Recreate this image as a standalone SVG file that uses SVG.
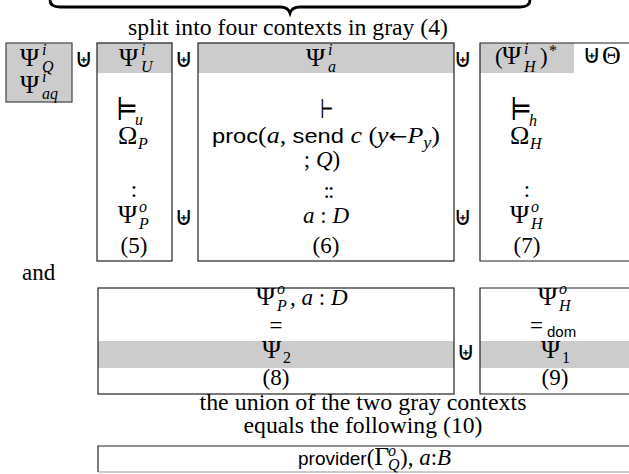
<svg xmlns="http://www.w3.org/2000/svg" width="629" height="474" viewBox="0 0 629 474">
<style>
text{font-family:"Liberation Serif","Times New Roman",serif;font-size:23px;fill:#000}
.gk{font-size:26px}
.i{font-style:italic}
.sc{font-size:16px}
.sf{font-family:"Liberation Sans",Arial,sans-serif;font-size:21px}
.op{font-family:"DejaVu Sans",sans-serif;font-size:26px}
.m{text-anchor:middle}
.g{fill:#cccccc;stroke:none}
.bx{fill:none;stroke:#222;stroke-width:1.2}
.rel{font-family:"DejaVu Sans",sans-serif}
.rs{font-family:"DejaVu Serif","DejaVu Sans",serif;fill:#000}
</style>
<rect width="629" height="474" fill="#fff"/>
<g id="brace">
<path d="M50,0 Q50,7 60,7 L280,7 Q288,7 290,13 Q292,7 300,7 L520,7 Q530,7 530,0" fill="none" stroke="#000" stroke-width="2.8"/>
</g>
<g id="title">
<text x="288" y="35" class="m" textLength="320" lengthAdjust="spacingAndGlyphs">split into four contexts in gray (4)</text>
</g>
<g id="connectors">
<text x="84" y="67" class="op m">⊎</text>
<text x="184" y="67" class="op m">⊎</text>
<text x="463" y="67" class="op m">⊎</text>
<text x="184" y="225" class="op m">⊎</text>
<text x="463" y="225" class="op m">⊎</text>
<text x="466" y="360" class="op m">⊎</text>
</g>
<g id="ctx-q">
<rect x="6" y="43" width="66" height="59" fill="#cccccc" stroke="#444" stroke-width="1.2"/>
<text x="20" y="66" class="gk">Ψ</text><text x="42" y="55" class="i sc">i</text><text x="42" y="72" class="i sc">Q</text>
<text x="20" y="93" class="gk">Ψ</text><text x="42" y="82" class="i sc">i</text><text x="42" y="99" class="i sc">aq</text>
</g>
<g id="ctx-5">
<rect x="97" y="43" width="75" height="30" class="g"/>
<rect x="97" y="43" width="75" height="218" class="bx"/>
<text x="119" y="66" class="gk">Ψ</text><text x="141" y="55" class="i sc">i</text><text x="141" y="72" class="i sc">U</text>
<text transform="translate(116,120) scale(0.85,1.05)" class="rs" style="font-size:30px">⊨</text><text x="135" y="125" class="i sc">u</text>
<text x="118" y="144" class="gk">Ω</text><text x="138" y="149" class="i sc">P</text>
<text x="134" y="197" class="m">:</text>
<text x="118" y="223" class="gk">Ψ</text><text x="139" y="212" class="i sc">o</text><text x="139" y="229" class="i sc">P</text>
<text x="134" y="253" class="m">(5)</text>
</g>
<g id="ctx-6">
<rect x="198" y="43" width="256" height="30" class="g"/>
<rect x="198" y="43" width="256" height="218" class="bx"/>
<text x="306" y="66" class="gk">Ψ</text><text x="328" y="55" class="i sc">i</text><text x="328" y="72" class="i sc">a</text>
<text transform="translate(320,118) scale(0.6,1)" class="rs" style="font-size:26px">⊢</text>
<text x="212" y="143" textLength="228" lengthAdjust="spacingAndGlyphs"><tspan class="sf">proc</tspan>(<tspan class="i">a</tspan>, <tspan class="sf">send</tspan> <tspan class="i">c</tspan> (<tspan class="i">y</tspan><tspan class="rel" style="font-size:20px">←</tspan><tspan class="i">P</tspan><tspan class="i sc" dy="5">y</tspan><tspan dy="-5">)</tspan></text>
<text x="322" y="167" class="m">; <tspan class="i">Q</tspan>)</text>
<text x="328" y="198" class="m" letter-spacing="-2">::</text>
<text x="326" y="223" class="m"><tspan class="i">a</tspan> : <tspan class="i">D</tspan></text>
<text x="326" y="253" class="m">(6)</text>
</g>
<g id="ctx-7">
<rect x="480" y="43" width="94" height="30" class="g"/>
<path d="M629,43 H480 V261 H629" class="bx"/>
<text x="495" y="64">(</text><text x="502" y="64" class="gk">Ψ</text><text x="524" y="54" class="i sc">i</text><text x="524" y="72" class="i sc">H</text><text x="540" y="64">)</text><text x="549" y="56" class="sc">*</text>
<text x="592" y="63" class="op m">⊎</text><text x="602" y="64" class="gk">Θ</text>
<text transform="translate(510,120) scale(0.85,1.05)" class="rs" style="font-size:30px">⊨</text><text x="529" y="126" class="i sc">h</text>
<text x="510" y="144" class="gk">Ω</text><text x="530" y="149" class="i sc">H</text>
<text x="527" y="197" class="m">:</text>
<text x="510" y="223" class="gk">Ψ</text><text x="531" y="212" class="i sc">o</text><text x="531" y="229" class="i sc">H</text>
<text x="527" y="253" class="m">(7)</text>
</g>
<g id="and">
<text x="22" y="280">and</text>
</g>
<g id="eq-8">
<rect x="98" y="341" width="356" height="27" class="g"/>
<rect x="98" y="288" width="356" height="106" class="bx"/>
<text x="256" y="305" class="gk">Ψ</text><text x="277" y="294" class="i sc">o</text><text x="277" y="311" class="i sc">P</text><text x="290" y="305">, <tspan class="i">a</tspan> : <tspan class="i">D</tspan></text>
<text x="276" y="333" class="m">=</text>
<text x="262" y="358" class="gk">Ψ</text><text x="283" y="363" class="sc">2</text>
<text x="276" y="385" class="m">(8)</text>
</g>
<g id="eq-9">
<rect x="480" y="341" width="149" height="27" class="g"/>
<path d="M629,288 H480 V394 H629" class="bx"/>
<text x="538" y="305" class="gk">Ψ</text><text x="559" y="294" class="i sc">o</text><text x="559" y="311" class="i sc">H</text>
<text x="530" y="333">=</text><text x="547" y="337" class="sf" style="font-size:15px">dom</text>
<text x="541" y="358" class="gk">Ψ</text><text x="562" y="363" class="sc">1</text>
<text x="555" y="385" class="m">(9)</text>
</g>
<g id="union-text">
<text x="363" y="410" class="m" textLength="327" lengthAdjust="spacingAndGlyphs">the union of the two gray contexts</text>
<text x="363" y="433" class="m" textLength="239" lengthAdjust="spacingAndGlyphs">equals the following (10)</text>
</g>
<g id="result-10">
<path d="M629,446 H98 V472" class="bx"/>
<path d="M98,472 H629" fill="none" stroke="#999" stroke-width="1.2"/>
<text x="298" y="465"><tspan class="sf" style="font-size:19px">provider</tspan>(<tspan class="gk">Γ</tspan></text>
<text x="388" y="456" class="i sc">o</text>
<text x="388" y="470" class="i sc">Q</text>
<text x="400" y="465">), <tspan class="i">a</tspan>:<tspan class="i">B</tspan></text>
</g>
</svg>
